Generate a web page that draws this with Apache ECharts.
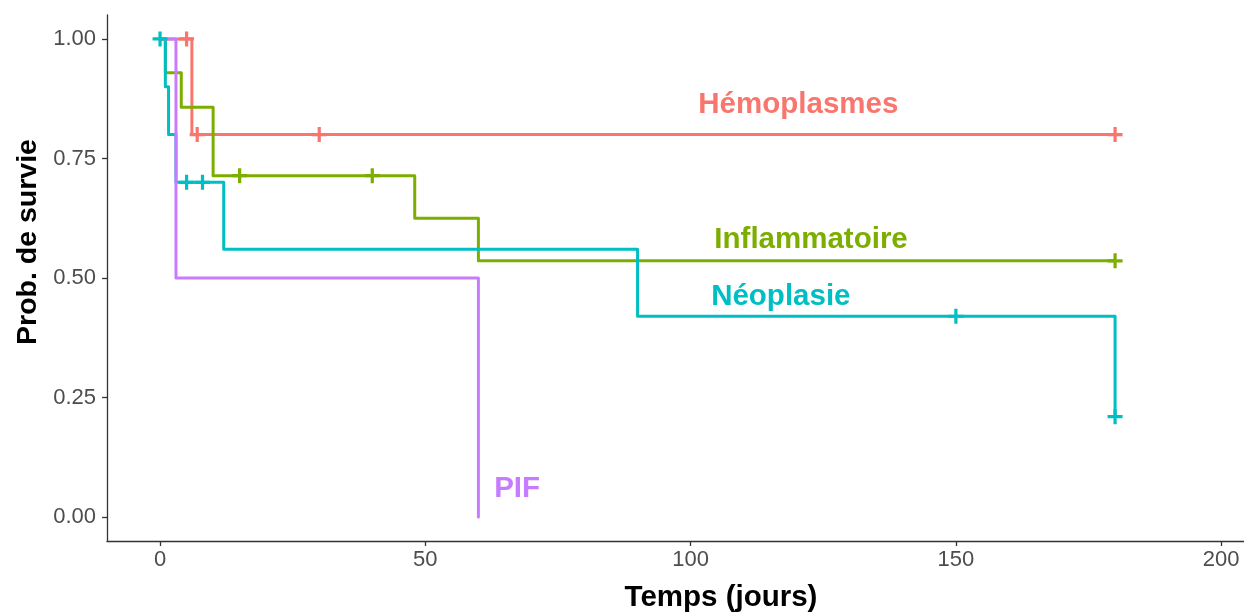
<!DOCTYPE html>
<html>
<head>
<meta charset="utf-8">
<script src="https://cdn.jsdelivr.net/npm/echarts@6/dist/echarts.min.js"></script>
<style>
html,body{margin:0;padding:0;background:#fff;}
#chart{width:1244px;height:612px;}
</style>
</head>
<body>
<div id="chart"></div>
<script>
// ---- Data (Kaplan-Meier step curves) ----
const groups = ["Hémoplasmes", "Inflammatoire", "Néoplasie", "PIF"];
const colors = ["#F8766D", "#7CAE00", "#00BFC4", "#C77CFF"];

const hemoTime = [0, 6, 180];
const hemoSurv = [1, 0.8, 0.8];
const hemoCensorTime = [5, 7, 30, 180];
const hemoCensorSurv = [1, 0.8, 0.8, 0.8];

const inflTime = [0, 1, 4, 10, 48, 60, 180];
const inflSurv = [1, 0.929, 0.857, 0.714, 0.625, 0.536, 0.536];
const inflCensorTime = [15, 40, 180];
const inflCensorSurv = [0.714, 0.714, 0.536];

const neoTime = [0, 1, 1.6, 3, 12, 90, 180];
const neoSurv = [1, 0.9, 0.8, 0.7, 0.56, 0.42, 0.21];
const neoCensorTime = [0, 5, 8, 150, 180];
const neoCensorSurv = [1, 0.7, 0.7, 0.42, 0.21];

const pifTime = [0, 3, 60];
const pifSurv = [1, 0.5, 0];
const pifCensorTime = [];
const pifCensorSurv = [];

// Annotation label anchors (data coordinates)
const labelTime = [120.3, 122.7, 117, 67.3];
const labelSurv = [0.862, 0.58, 0.46, 0.06];

const xTicks = [0, 50, 100, 150, 200];
const yTicks = [0, 0.25, 0.5, 0.75, 1];

// ---- Build ----
const zip = (a, b) => a.map((v, i) => [v, b[i]]);
const curves = [zip(hemoTime, hemoSurv), zip(inflTime, inflSurv), zip(neoTime, neoSurv), zip(pifTime, pifSurv)];
const censors = [zip(hemoCensorTime, hemoCensorSurv), zip(inflCensorTime, inflCensorSurv), zip(neoCensorTime, neoCensorSurv), zip(pifCensorTime, pifCensorSurv)];

const FONT = "'Liberation Sans', Arial, sans-serif";
const plus = 'path://M-1.5,-7 L1.5,-7 L1.5,-1.5 L7,-1.5 L7,1.5 L1.5,1.5 L1.5,7 L-1.5,7 L-1.5,1.5 L-7,1.5 L-7,-1.5 L-1.5,-1.5 Z';

const series = [];
groups.forEach((g, i) => {
  series.push({
    name: g, type: 'line', step: 'end', data: curves[i],
    showSymbol: false, symbol: 'none', silent: true,
    lineStyle: { color: colors[i], width: 3, cap: 'round', join: 'round' },
    z: 2 + i
  });
});
groups.forEach((g, i) => {
  series.push({
    name: g + ' censor', type: 'scatter', data: censors[i],
    symbol: plus, symbolSize: 15, symbolKeepAspect: true, silent: true,
    itemStyle: { color: colors[i], opacity: 1 },
    z: 10
  });
});
series.push({
  type: 'scatter', silent: true, symbolSize: 0, z: 12,
  itemStyle: { opacity: 1 },
  data: groups.map((g, i) => ({
    value: [labelTime[i], labelSurv[i]],
    itemStyle: { opacity: 1, color: colors[i] },
    label: {
      show: true, position: 'inside', formatter: g,
      color: colors[i], opacity: 1, fontSize: 29.5, fontWeight: 'bold', fontFamily: FONT,
      textBorderWidth: 0, textShadowBlur: 0
    }
  }))
});

const axisLineStyle = { color: '#333333', width: 1.3 };

const option = {
  animation: false,
  backgroundColor: '#ffffff',
  grid: { left: 107, right: 0, top: 15, bottom: 71, containLabel: false },
  xAxis: {
    type: 'value', min: -10, max: 204.3,
    axisLine: { show: true, onZero: false, lineStyle: axisLineStyle },
    axisTick: { show: true, length: 5, lineStyle: axisLineStyle, customValues: xTicks },
    axisLabel: { customValues: xTicks, color: '#4D4D4D', fontSize: 22, fontFamily: FONT, margin: 8 },
    splitLine: { show: false }
  },
  yAxis: {
    type: 'value', min: -0.05, max: 1.05,
    axisLine: { show: true, onZero: false, lineStyle: axisLineStyle },
    axisTick: { show: true, length: 5, lineStyle: axisLineStyle, customValues: yTicks },
    axisLabel: { customValues: yTicks, color: '#4D4D4D', fontSize: 22, fontFamily: FONT, margin: 11,
      formatter: v => v.toFixed(2) },
    splitLine: { show: false }
  },
  graphic: [
    { type: 'text', x: 721, y: 598, style: { text: 'Temps (jours)', fill: '#000', font: "bold 29.5px 'Liberation Sans', Arial, sans-serif", textAlign: 'center', textVerticalAlign: 'middle' } },
    { type: 'text', x: 28, y: 242, rotation: Math.PI / 2, style: { text: 'Prob. de survie', fill: '#000', font: "bold 28.5px 'Liberation Sans', Arial, sans-serif", textAlign: 'center', textVerticalAlign: 'middle' } }
  ],
  series: series
};

const chart = echarts.init(document.getElementById('chart'), null, { renderer: 'canvas' });
chart.setOption(option);
</script>
</body>
</html>
